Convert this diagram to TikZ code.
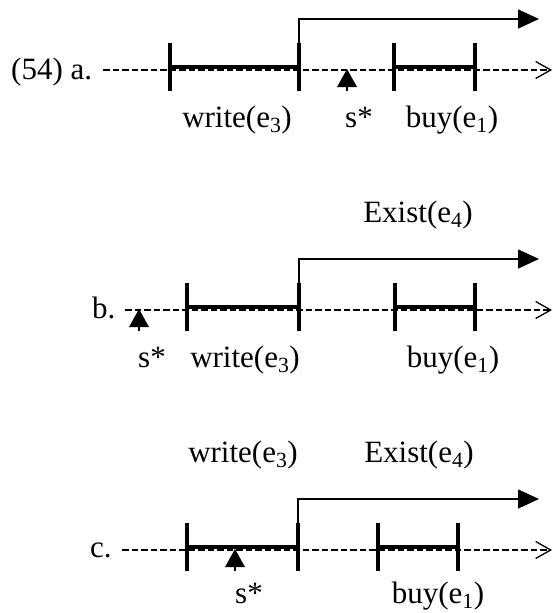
\documentclass[tikz,border=0pt]{standalone}
\usepackage{fontspec}
\setmainfont{Liberation Serif}
\usetikzlibrary{arrows.meta}
\begin{document}
\begin{tikzpicture}[x=1pt,y=-1pt,
  lbl/.style={inner sep=0pt,font=\fontsize{31}{37}\selectfont},
  timeline/.style={line width=1.5pt,dash pattern=on 6.5pt off 3pt,-{Straight Barb[length=15pt,width=17pt,line width=1.3pt]}},
  tickmark/.style={line width=4pt},
  evbar/.style={line width=3.5pt},
  stateline/.style={line width=1.6pt,-{Triangle[length=21pt,width=19pt]}},
  stem/.style={line width=1.6pt}
]
\useasboundingbox (0,0) rectangle (553,613);

% ---------- panel a ----------
\node[lbl,anchor=base west] (alab) at (11,79) {(54) a.};
\coordinate (as) at (103,70); \coordinate (ae) at (552,70);
\draw[timeline] (as) -- (ae);
\coordinate (a1) at (170,67); \coordinate (a2) at (299,67);
\coordinate (a3) at (394,67); \coordinate (a4) at (475,67);
\draw[evbar] (a1) -- (a2);
\draw[evbar] (a3) -- (a4);
\foreach \p in {a1,a2,a3,a4}{\draw[tickmark] ([yshift=24pt]\p) -- ([yshift=-24pt]\p);}
\coordinate (aT) at (539,19);
\draw[stateline] ([yshift=24pt]a2) |- (aT);
\coordinate (aS) at (347,69);
\fill (aS) -- ++(-10,18) -- ++(20,0) -- cycle;
\draw[stem] ([yshift=-18pt]aS) -- ([yshift=-22pt]aS);
\node[lbl,anchor=base] (aw) at (237,127) {write(e\textsubscript{3})};
\node[lbl,anchor=base west] (asl) at (345,127) {s*};
\node[lbl,anchor=base] (ab) at (452,127) {buy(e\textsubscript{1})};

% ---------- panel b ----------
\node[lbl,anchor=base] (bex) at (418,222) {Exist(e\textsubscript{4})};
\node[lbl,anchor=base west] (blab) at (92,318) {b.};
\coordinate (bs) at (125,310); \coordinate (be) at (552,310);
\draw[timeline] (bs) -- (be);
\coordinate (b1) at (187,307); \coordinate (b2) at (299,307);
\coordinate (b3) at (395,307); \coordinate (b4) at (475,307);
\draw[evbar] (b1) -- (b2);
\draw[evbar] (b3) -- (b4);
\foreach \p in {b1,b2,b3,b4}{\draw[tickmark] ([yshift=24pt]\p) -- ([yshift=-24pt]\p);}
\coordinate (bT) at (539,259);
\draw[stateline] ([yshift=24pt]b2) |- (bT);
\coordinate (bS) at (139,309);
\fill (bS) -- ++(-10,18) -- ++(20,0) -- cycle;
\draw[stem] ([yshift=-18pt]bS) -- ([yshift=-22pt]bS);
\node[lbl,anchor=base west] (bsl) at (138,367) {s*};
\node[lbl,anchor=base] (bw) at (245,367) {write(e\textsubscript{3})};
\node[lbl,anchor=base] (bb) at (453,367) {buy(e\textsubscript{1})};

% ---------- panel c ----------
\node[lbl,anchor=base] (cw) at (243,462) {write(e\textsubscript{3})};
\node[lbl,anchor=base] (cex) at (419,462) {Exist(e\textsubscript{4})};
\node[lbl,anchor=base west] (clab) at (90,557) {c.};
\coordinate (cs) at (122,550); \coordinate (ce) at (552,550);
\draw[timeline] (cs) -- (ce);
\coordinate (c1) at (187,547); \coordinate (c2) at (298,547);
\coordinate (c3) at (378,547); \coordinate (c4) at (458,547);
\draw[evbar] (c1) -- (c2);
\draw[evbar] (c3) -- (c4);
\foreach \p in {c1,c2,c3,c4}{\draw[tickmark] ([yshift=24pt]\p) -- ([yshift=-24pt]\p);}
\coordinate (cT) at (539,499);
\draw[stateline] ([yshift=24pt]c2) |- (cT);
\coordinate (cS) at (235,549);
\fill (cS) -- ++(-10,18) -- ++(20,0) -- cycle;
\draw[stem] ([yshift=-18pt]cS) -- ([yshift=-22pt]cS);
\node[lbl,anchor=base west] (csl) at (235,603) {s*};
\node[lbl,anchor=base] (cb) at (438,603) {buy(e\textsubscript{1})};
\end{tikzpicture}
\end{document}
